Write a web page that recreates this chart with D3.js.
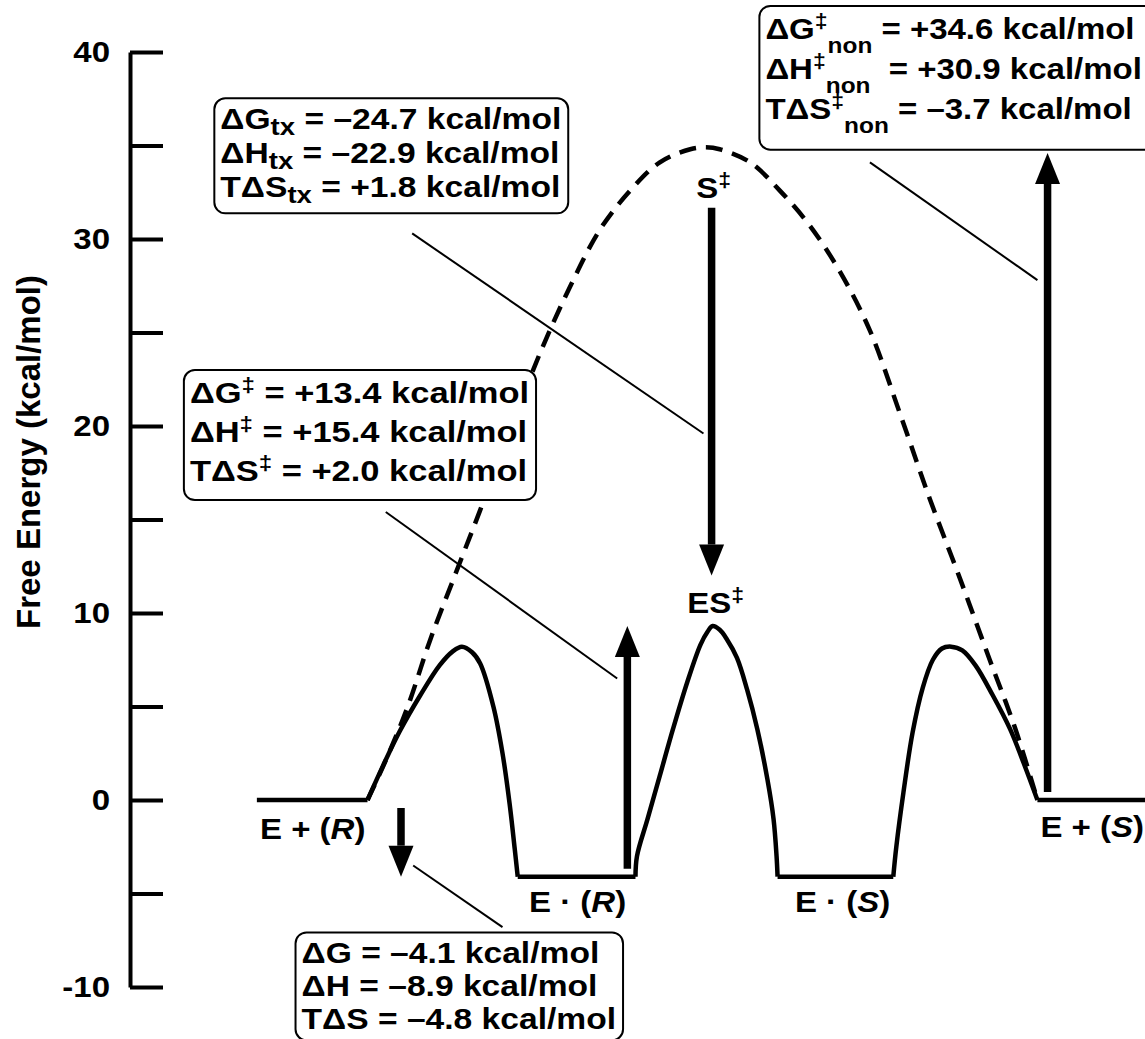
<!DOCTYPE html>
<html>
<head>
<meta charset="utf-8">
<script src="https://cdn.jsdelivr.net/npm/d3@7"></script>
<style>
  html, body { margin: 0; padding: 0; background: #fff; }
  svg { display: block; }
  text { font-family: "Liberation Sans", Arial, Helvetica, sans-serif; font-weight: bold; fill: #000; white-space: pre; }
</style>
</head>
<body>
<svg id="chart" width="1145" height="1039"></svg>
<script>
// ---- energy axis ----
const yTicks = [-10, -5, 0, 5, 10, 15, 20, 25, 30, 35, 40];
const yLabelTicks = [-10, 0, 10, 20, 30, 40];
const yTitle = "Free Energy (kcal/mol)";

// ---- enzymatic pathway (reaction coordinate, kcal/mol) ----
const plateaus = [
  [12.5, 23.4, 0],
  [38.2, 49.8, -4.1],
  [63.8, 75.2, -4.1],
  [89.4, 100, 0]
];
const bindingBarrierR = [
  [23.4, 0], [24.9, 1.8], [26.6, 3.7], [28.6, 5.6], [30.5, 7.2], [31.8, 7.95],
  [32.7, 8.2], [33.7, 7.9], [34.5, 7.3], [35.8, 5.0], [36.7, 2.5], [37.4, -0.2],
  [37.9, -2.6], [38.2, -4.1]
];
const chemicalBarrier = [
  [49.8, -4.1], [49.95, -3.0], [51.0, -1.0], [52.2, 1.3], [53.5, 3.8], [54.9, 6.3],
  [56.2, 8.3], [56.9, 9.0], [57.4, 9.3], [58.1, 9.1], [58.8, 8.6], [59.8, 7.6],
  [60.8, 5.9], [61.8, 3.8], [62.8, 1.1], [63.4, -1.0], [63.7, -3.0], [63.8, -4.1]
];
const bindingBarrierS = [
  [75.2, -4.1], [75.5, -2.5], [76.2, 0.4], [77.1, 3.6], [78.1, 6.0], [79.1, 7.5],
  [80.0, 8.1], [80.9, 8.2], [82.0, 8.0], [83.3, 7.2], [85.0, 5.6], [86.7, 3.8],
  [88.1, 1.9], [89.4, 0]
];

// ---- uncatalysed pathway ----
const uncatalysed = [
  [23.4, 0], [25.1, 2.0], [27.3, 4.9], [29.6, 8.6], [32.0, 12.0], [34.5, 15.5],
  [37.4, 19.7], [40.4, 23.9], [43.4, 27.5], [46.3, 30.5], [49.3, 32.6], [52.2, 34.1],
  [55.2, 34.8], [56.7, 34.9], [58.1, 34.8], [61.1, 34.1], [64.0, 32.6], [67.0, 30.7],
  [70.0, 28.2], [72.9, 25.1], [75.9, 20.6], [78.8, 16.1], [81.8, 11.8], [84.7, 7.5],
  [87.2, 3.85], [89.4, 0]
];

// ---- energy differences shown as arrows ----
const arrowX    = [26.7, 49.0, 57.3, 90.4];
const arrowFrom = [0, -4.1, 32.1, 0];
const arrowTo   = [-4.1, 9.3, 12.0, 34.6];

// ---- state labels ----
const stateText = ["E + (*R*)", "E · (*R*)", "E · (*S*)", "E + (*S*)", "S^{‡}", "ES^{‡}"];
const stateX    = [18.0, 44.1, 70.2, 89.7, 57.5, 57.7];
const stateE    = [-2.1, -6.0, -6.0, -2.0, 32.2, 10.0];

// ---- thermodynamic parameter boxes ----
const txRows   = ["ΔG_{tx} = –24.7 kcal/mol", "ΔH_{tx} = –22.9 kcal/mol", "TΔS_{tx} = +1.8 kcal/mol"];
const tsRows   = ["ΔG^{‡} = +13.4 kcal/mol", "ΔH^{‡} = +15.4 kcal/mol", "TΔS^{‡} = +2.0 kcal/mol"];
const nonRows  = ["ΔG^{‡}_{non} = +34.6 kcal/mol", "ΔH^{‡}_{non}  = +30.9 kcal/mol", "TΔS^{‡}_{non} = –3.7 kcal/mol"];
const bindRows = ["ΔG = –4.1 kcal/mol", "ΔH = –8.9 kcal/mol", "TΔS = –4.8 kcal/mol"];

// leader lines from each box to its arrow: [x1, e1, x2, e2]
const leaders = [
  [27.8, 30.3, 56.5, 19.6],
  [25.2, 15.4, 48.0, 6.5],
  [27.9, -3.5, 36.7, -6.8],
  [72.9, 34.1, 89.4, 27.8]
];

// ---------------- drawing ----------------
const svg = d3.select("#chart");
svg.append("rect").attr("width", 1145).attr("height", 1039).attr("fill", "#fff");

const x = d3.scaleLinear().domain([0, 100]).range([130, 1145]);
const y = d3.scaleLinear().domain([-10, 40]).range([987, 52]);

// the lettering is set slightly wide
const TEXT_STRETCH = 1.1;

// axis
const axis = d3.axisLeft(y)
  .tickValues(yTicks)
  .tickSizeInner(-33)
  .tickSizeOuter(0)
  .tickPadding(20)
  .tickFormat(d => yLabelTicks.includes(d) ? String(d) : "");

const gAxis = svg.append("g").attr("transform", "translate(130,0)").call(axis);
gAxis.attr("font-size", null).attr("font-family", null);
gAxis.select(".domain").attr("stroke", "#000").attr("stroke-width", 4);
gAxis.selectAll(".tick line").attr("stroke", "#000").attr("stroke-width", 4);
gAxis.selectAll(".tick text")
  .attr("font-size", 30).attr("fill", "#000")
  .attr("x", 0)
  .attr("transform", `translate(-20,0) scale(${TEXT_STRETCH},1)`);

svg.append("text")
  .attr("transform", "translate(40,452) rotate(-90)")
  .attr("text-anchor", "middle")
  .attr("font-size", 33)
  .text(yTitle);

// rich text: _{sub}, ^{sup}, *italic*
function rich(sel, str, opt) {
  const parts = str.split(/(_\{[^}]*\}|\^\{[^}]*\}|\*[^*]+\*)/).filter(s => s.length);
  let cur = 0;
  parts.forEach(p => {
    let txt = p, shift = 0, size = null, italic = false;
    if (p.startsWith("_{")) { txt = p.slice(2, -1); shift = opt.subShift; size = opt.subSize; }
    else if (p.startsWith("^{")) { txt = p.slice(2, -1); shift = -opt.supShift; size = opt.supSize; }
    else if (p.length > 1 && p.startsWith("*") && p.endsWith("*")) { txt = p.slice(1, -1); italic = true; }
    const ts = sel.append("tspan").attr("dy", shift - cur).text(txt);
    if (size) ts.attr("font-size", size);
    if (italic) ts.attr("font-style", "italic");
    cur = shift;
  });
}

// solid enzymatic profile
const lineLinear = d3.line().x(d => x(d[0])).y(d => y(d[1]));
const lineSmooth = d3.line().x(d => x(d[0])).y(d => y(d[1])).curve(d3.curveCatmullRom.alpha(0.5));

const gProfile = svg.append("g")
  .attr("fill", "none").attr("stroke", "#000").attr("stroke-width", 4.5)
  .attr("stroke-linejoin", "round");

plateaus.forEach(p => {
  gProfile.append("path").attr("d", lineLinear([[p[0], p[2]], [p[1], p[2]]]));
});
[bindingBarrierR, chemicalBarrier, bindingBarrierS].forEach(h => {
  gProfile.append("path").attr("d", lineSmooth(h));
});

// dashed uncatalysed profile
svg.append("path")
  .attr("d", lineSmooth(uncatalysed))
  .attr("fill", "none").attr("stroke", "#000").attr("stroke-width", 4.5)
  .attr("stroke-dasharray", "17,10");

// leader lines
svg.append("g").selectAll("line").data(leaders).join("line")
  .attr("x1", d => x(d[0])).attr("y1", d => y(d[1]))
  .attr("x2", d => x(d[2])).attr("y2", d => y(d[3]))
  .attr("stroke", "#000").attr("stroke-width", 2);

// arrows
const headLen = 31, headHalf = 12.5, shaftW = 7.5, tailGap = 8;
arrowX.forEach((ax, i) => {
  const px = x(ax);
  const dir = arrowTo[i] > arrowFrom[i] ? -1 : 1; // screen direction of travel
  const tip = y(arrowTo[i]);
  const tail = y(arrowFrom[i]) + dir * tailGap;
  const base = tip - dir * headLen;
  svg.append("line")
    .attr("x1", px).attr("x2", px).attr("y1", tail).attr("y2", base)
    .attr("stroke", "#000").attr("stroke-width", shaftW);
  svg.append("path")
    .attr("d", `M${px},${tip}L${px - headHalf},${base}L${px + headHalf},${base}Z`)
    .attr("fill", "#000");
});

// state labels
stateText.forEach((t, i) => {
  const txt = svg.append("text")
    .attr("transform", `translate(${x(stateX[i])},${y(stateE[i])}) scale(${TEXT_STRETCH},1)`)
    .attr("font-size", 30)
    .attr("text-anchor", i === 3 ? "start" : "middle");
  rich(txt, t, { supSize: "70%", supShift: 11 });
});

// parameter boxes
function paramBox(rows, px, py, lineGap, stretch, padBottom, padRight, opt) {
  const g = svg.append("g");
  const rect = g.append("rect");
  rows.forEach((r, i) => {
    const t = g.append("text")
      .attr("transform", `translate(${px},${py + i * lineGap}) scale(${stretch},1)`)
      .attr("font-size", 30);
    rich(t, r, opt);
  });
  const bb = g.node().getBBox();
  rect.attr("x", bb.x - 6).attr("y", bb.y - 3)
    .attr("width", bb.width + 6 + padRight).attr("height", bb.height + 3 + padBottom)
    .attr("rx", 11).attr("ry", 11)
    .attr("fill", "#fff").attr("stroke", "#000").attr("stroke-width", 2);
}

paramBox(txRows, x(8.9), y(35.9), 34, 1.12, 5, 7, { subSize: "82%", subShift: 6 });
paramBox(tsRows, x(5.9), y(21.25), 39, 1.15, 13, 7, { supSize: "70%", supShift: 11 });
paramBox(nonRows, x(62.6), y(40.7), 40, 1.1, 12, 20, { supSize: "70%", supShift: 11, subSize: "74%", subShift: 14 });
paramBox(bindRows, x(16.9), y(-8.7), 33, 1.12, 5, 7, {});
</script>
</body>
</html>
